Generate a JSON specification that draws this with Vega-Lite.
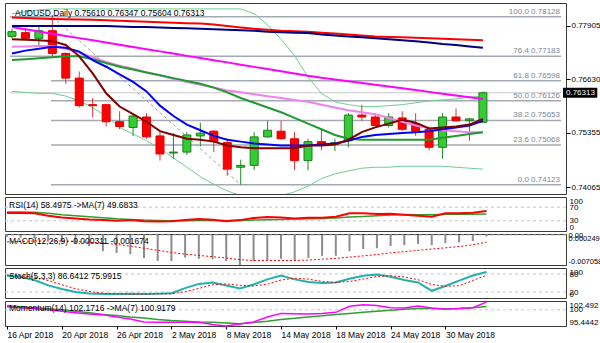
{
 "$schema": "https://vega.github.io/schema/vega-lite/v6.json",
 "padding": {"left": 2, "top": 2, "right": 0, "bottom": 0},
 "background": "white",
 "spacing": 3,
 "bounds": "flush",
 "config": {
  "view": {"stroke": "#3a3a3a", "strokeWidth": 1},
  "font": "Liberation Sans",
  "axis": {"labelFont": "Liberation Sans", "labelFontSize": 8, "labelColor": "#000", "domain": false, "grid": false, "labelOverlap": false}
 },
 "datasets": {
  "bars": [
   {"i":0,"o":0.77657,"h":0.77837,"l":0.77611,"c":0.7777,"r200":0.78108,"nv":0.77905,"mg":0.77878,"pk":0.77408,"dg":0.77092,"bl":0.7725,"br":0.77589,"bbu":0.78199,"bbl":0.76346,"rsi":53,"rsima":56,"macd":-0.0004,"sig":-0.0016,"stk":74,"std":76,"mom":100.9,"momma":101.2},
   {"i":1,"o":0.77747,"h":0.7786,"l":0.77589,"c":0.77611,"r200":0.78097,"nv":0.77905,"mg":0.77826,"pk":0.77419,"dg":0.77114,"bl":0.77318,"br":0.77577,"bbu":0.78244,"bbl":0.76324,"rsi":53,"rsima":56,"macd":-0.0006,"sig":-0.0015,"stk":70,"std":74,"mom":100.6,"momma":100.9},
   {"i":2,"o":0.77611,"h":0.77928,"l":0.77408,"c":0.77792,"r200":0.78086,"nv":0.77905,"mg":0.77774,"pk":0.77431,"dg":0.77137,"bl":0.77363,"br":0.77566,"bbu":0.78289,"bbl":0.76301,"rsi":52,"rsima":55,"macd":-0.0008,"sig":-0.0014,"stk":60,"std":70,"mom":100.4,"momma":100.6},
   {"i":3,"o":0.77792,"h":0.78128,"l":0.7716,"c":0.7725,"r200":0.78074,"nv":0.77905,"mg":0.7772,"pk":0.77431,"dg":0.7716,"bl":0.77408,"br":0.77544,"bbu":0.78312,"bbl":0.76301,"rsi":45,"rsima":52,"macd":-0.0012,"sig":-0.0014,"stk":42,"std":58,"mom":100.0,"momma":100.3},
   {"i":4,"o":0.7725,"h":0.77272,"l":0.76527,"c":0.76663,"r200":0.78063,"nv":0.77905,"mg":0.77668,"pk":0.77363,"dg":0.77182,"bl":0.77385,"br":0.77453,"bbu":0.78312,"bbl":0.76233,"rsi":40,"rsima":48,"macd":-0.0016,"sig":-0.0014,"stk":30,"std":44,"mom":99.6,"momma":100.0},
   {"i":5,"o":0.76663,"h":0.76821,"l":0.75962,"c":0.76007,"r200":0.78059,"nv":0.77905,"mg":0.77616,"pk":0.77273,"dg":0.77182,"bl":0.77295,"br":0.77182,"bbu":0.78312,"bbl":0.7612,"rsi":37,"rsima":45,"macd":-0.0021,"sig":-0.0015,"stk":20,"std":31,"mom":99.2,"momma":99.6},
   {"i":6,"o":0.7603,"h":0.76188,"l":0.75736,"c":0.76007,"r200":0.78052,"nv":0.77905,"mg":0.77564,"pk":0.7716,"dg":0.77114,"bl":0.77092,"br":0.76776,"bbu":0.78312,"bbl":0.75962,"rsi":34,"rsima":42,"macd":-0.0026,"sig":-0.0017,"stk":15,"std":22,"mom":98.8,"momma":99.2},
   {"i":7,"o":0.7603,"h":0.76052,"l":0.7551,"c":0.75623,"r200":0.78041,"nv":0.77905,"mg":0.7751,"pk":0.77047,"dg":0.77024,"bl":0.76934,"br":0.76301,"bbu":0.78312,"bbl":0.75759,"rsi":32,"rsima":39,"macd":-0.0038,"sig":-0.0019,"stk":13,"std":16,"mom":98.6,"momma":98.7},
   {"i":8,"o":0.75623,"h":0.75872,"l":0.75443,"c":0.7551,"r200":0.78029,"nv":0.77894,"mg":0.77458,"pk":0.76956,"dg":0.76934,"bl":0.76753,"br":0.75985,"bbu":0.78312,"bbl":0.75488,"rsi":30,"rsima":36,"macd":-0.0042,"sig":-0.0022,"stk":13,"std":14,"mom":98.0,"momma":98.4},
   {"i":9,"o":0.75488,"h":0.75804,"l":0.75285,"c":0.75759,"r200":0.78018,"nv":0.77882,"mg":0.77406,"pk":0.76889,"dg":0.76866,"bl":0.76572,"br":0.75804,"bbu":0.78312,"bbl":0.7533,"rsi":32,"rsima":34,"macd":-0.0045,"sig":-0.0026,"stk":14,"std":13,"mom":97.4,"momma":98.0},
   {"i":10,"o":0.75736,"h":0.75827,"l":0.75217,"c":0.75262,"r200":0.78007,"nv":0.77882,"mg":0.77352,"pk":0.76798,"dg":0.76798,"bl":0.76346,"br":0.75623,"bbu":0.78312,"bbl":0.75172,"rsi":29,"rsima":32,"macd":-0.0054,"sig":-0.0031,"stk":13,"std":13,"mom":96.6,"momma":97.7},
   {"i":11,"o":0.75285,"h":0.75398,"l":0.74697,"c":0.74855,"r200":0.77995,"nv":0.77871,"mg":0.773,"pk":0.7673,"dg":0.7673,"bl":0.76007,"br":0.75398,"bbu":0.78312,"bbl":0.74991,"rsi":28,"rsima":31,"macd":-0.0061,"sig":-0.0036,"stk":14,"std":14,"mom":96.5,"momma":97.3},
   {"i":12,"o":0.74878,"h":0.75352,"l":0.74742,"c":0.749,"r200":0.77984,"nv":0.7786,"mg":0.77248,"pk":0.7664,"dg":0.76663,"bl":0.75759,"br":0.75307,"bbu":0.78312,"bbl":0.7476,"rsi":29,"rsima":30,"macd":-0.0061,"sig":-0.0041,"stk":16,"std":14,"mom":96.5,"momma":97.0},
   {"i":13,"o":0.749,"h":0.75375,"l":0.74833,"c":0.75307,"r200":0.77973,"nv":0.77849,"mg":0.77193,"pk":0.76572,"dg":0.76595,"bl":0.75556,"br":0.75217,"bbu":0.78312,"bbl":0.74539,"rsi":32,"rsima":30,"macd":-0.0053,"sig":-0.0045,"stk":33,"std":21,"mom":96.5,"momma":96.8},
   {"i":14,"o":0.75285,"h":0.75601,"l":0.75036,"c":0.75352,"r200":0.77962,"nv":0.77837,"mg":0.77141,"pk":0.76504,"dg":0.76527,"bl":0.7542,"br":0.75194,"bbu":0.78312,"bbl":0.74313,"rsi":35,"rsima":31,"macd":-0.0056,"sig":-0.0048,"stk":47,"std":32,"mom":96.5,"momma":96.6},
   {"i":15,"o":0.75398,"h":0.7542,"l":0.749,"c":0.75149,"r200":0.77939,"nv":0.77826,"mg":0.77089,"pk":0.76437,"dg":0.76437,"bl":0.75285,"br":0.75149,"bbu":0.78312,"bbl":0.74133,"rsi":33,"rsima":31,"macd":-0.0057,"sig":-0.0051,"stk":52,"std":44,"mom":95.9,"momma":96.5},
   {"i":16,"o":0.75126,"h":0.75217,"l":0.74336,"c":0.74494,"r200":0.77905,"nv":0.77815,"mg":0.77038,"pk":0.76369,"dg":0.76324,"bl":0.75194,"br":0.75059,"bbu":0.78312,"bbl":0.73974,"rsi":29,"rsima":31,"macd":-0.0061,"sig":-0.0054,"stk":42,"std":47,"mom":95.4442,"momma":96.3},
   {"i":17,"o":0.74539,"h":0.7472,"l":0.74123,"c":0.74584,"r200":0.77871,"nv":0.77803,"mg":0.76983,"pk":0.76324,"dg":0.76188,"bl":0.75149,"br":0.75014,"bbu":0.78312,"bbl":0.73861,"rsi":32,"rsima":31,"macd":-0.007058,"sig":-0.0058,"stk":32,"std":42,"mom":96.0,"momma":96.1},
   {"i":18,"o":0.74584,"h":0.75375,"l":0.74471,"c":0.75262,"r200":0.77837,"nv":0.77792,"mg":0.76931,"pk":0.76279,"dg":0.76075,"bl":0.75104,"br":0.74991,"bbu":0.78199,"bbl":0.73794,"rsi":38,"rsima":32,"macd":-0.0061,"sig":-0.006,"stk":45,"std":40,"mom":96.6,"momma":96.4},
   {"i":19,"o":0.75262,"h":0.75646,"l":0.75239,"c":0.7542,"r200":0.77815,"nv":0.7777,"mg":0.76879,"pk":0.76233,"dg":0.75962,"bl":0.75081,"br":0.74991,"bbu":0.77928,"bbl":0.73794,"rsi":41,"rsima":33,"macd":-0.0059,"sig":-0.006,"stk":62,"std":46,"mom":98.0,"momma":96.8},
   {"i":20,"o":0.75398,"h":0.75646,"l":0.75194,"c":0.75217,"r200":0.77792,"nv":0.77758,"mg":0.76825,"pk":0.76188,"dg":0.75849,"bl":0.75059,"br":0.74991,"bbu":0.77589,"bbl":0.73861,"rsi":40,"rsima":34,"macd":-0.0056,"sig":-0.006,"stk":75,"std":60,"mom":99.0,"momma":97.3},
   {"i":21,"o":0.75217,"h":0.75375,"l":0.74471,"c":0.74697,"r200":0.77781,"nv":0.77747,"mg":0.76773,"pk":0.76143,"dg":0.75714,"bl":0.75059,"br":0.74991,"bbu":0.772,"bbl":0.73952,"rsi":37,"rsima":35,"macd":-0.0061,"sig":-0.006,"stk":62,"std":66,"mom":98.9,"momma":97.6},
   {"i":22,"o":0.74697,"h":0.75217,"l":0.74471,"c":0.75149,"r200":0.7777,"nv":0.77736,"mg":0.76717,"pk":0.76098,"dg":0.75578,"bl":0.75059,"br":0.75059,"bbu":0.76685,"bbl":0.74087,"rsi":39,"rsima":36,"macd":-0.0054,"sig":-0.0059,"stk":53,"std":63,"mom":98.8,"momma":98.0},
   {"i":23,"o":0.75149,"h":0.75443,"l":0.74946,"c":0.75081,"r200":0.77747,"nv":0.77702,"mg":0.76674,"pk":0.7603,"dg":0.75443,"bl":0.75081,"br":0.75059,"bbu":0.76301,"bbl":0.74268,"rsi":39,"rsima":37,"macd":-0.0049,"sig":-0.0057,"stk":50,"std":55,"mom":99.0,"momma":98.3},
   {"i":24,"o":0.75081,"h":0.75217,"l":0.74923,"c":0.75126,"r200":0.77724,"nv":0.77679,"mg":0.76631,"pk":0.75962,"dg":0.75307,"bl":0.75104,"br":0.75081,"bbu":0.76098,"bbl":0.74381,"rsi":42,"rsima":38,"macd":-0.0049,"sig":-0.0055,"stk":52,"std":52,"mom":99.3,"momma":98.7},
   {"i":25,"o":0.75172,"h":0.75827,"l":0.75014,"c":0.75782,"r200":0.77702,"nv":0.77657,"mg":0.7659,"pk":0.75895,"dg":0.75217,"bl":0.75172,"br":0.75194,"bbu":0.7603,"bbl":0.74449,"rsi":52,"rsima":41,"macd":-0.0038,"sig":-0.0052,"stk":64,"std":55,"mom":101.0,"momma":99.0},
   {"i":26,"o":0.75782,"h":0.7603,"l":0.75646,"c":0.75736,"r200":0.77679,"nv":0.77634,"mg":0.76547,"pk":0.75849,"dg":0.75194,"bl":0.75262,"br":0.75375,"bbu":0.75985,"bbl":0.74516,"rsi":52,"rsima":43,"macd":-0.0033,"sig":-0.0049,"stk":74,"std":63,"mom":101.4,"momma":99.3},
   {"i":27,"o":0.75736,"h":0.75827,"l":0.7551,"c":0.75533,"r200":0.77657,"nv":0.77611,"mg":0.76504,"pk":0.75804,"dg":0.75194,"bl":0.75307,"br":0.75488,"bbu":0.75985,"bbl":0.74539,"rsi":50,"rsima":45,"macd":-0.0031,"sig":-0.0046,"stk":78,"std":72,"mom":101.2,"momma":99.6},
   {"i":28,"o":0.75533,"h":0.75827,"l":0.75488,"c":0.75736,"r200":0.77645,"nv":0.77589,"mg":0.76461,"pk":0.75714,"dg":0.75194,"bl":0.7533,"br":0.75578,"bbu":0.76007,"bbl":0.74539,"rsi":51,"rsima":47,"macd":-0.0026,"sig":-0.0042,"stk":71,"std":74,"mom":100.6,"momma":99.9},
   {"i":29,"o":0.75714,"h":0.75872,"l":0.75398,"c":0.75443,"r200":0.77634,"nv":0.77566,"mg":0.76421,"pk":0.75623,"dg":0.75194,"bl":0.75352,"br":0.75669,"bbu":0.7603,"bbl":0.74562,"rsi":48,"rsima":48,"macd":-0.0024,"sig":-0.0039,"stk":60,"std":70,"mom":100.5,"momma":100.2},
   {"i":30,"o":0.75578,"h":0.75827,"l":0.75285,"c":0.75398,"r200":0.77623,"nv":0.77544,"mg":0.76378,"pk":0.75533,"dg":0.75194,"bl":0.75375,"br":0.75601,"bbu":0.76075,"bbl":0.74562,"rsi":45,"rsima":48,"macd":-0.0021,"sig":-0.0036,"stk":52,"std":61,"mom":101.1,"momma":100.4},
   {"i":31,"o":0.75443,"h":0.7551,"l":0.74946,"c":0.75014,"r200":0.77611,"nv":0.7751,"mg":0.76335,"pk":0.75465,"dg":0.75194,"bl":0.75398,"br":0.75465,"bbu":0.76121,"bbl":0.74562,"rsi":42,"rsima":48,"macd":-0.0024,"sig":-0.0033,"stk":24,"std":45,"mom":100.5,"momma":100.4},
   {"i":32,"o":0.75014,"h":0.75827,"l":0.74742,"c":0.75736,"r200":0.776,"nv":0.77476,"mg":0.76292,"pk":0.7542,"dg":0.75239,"bl":0.75443,"br":0.75488,"bbu":0.76143,"bbl":0.74562,"rsi":52,"rsima":49,"macd":-0.0019,"sig":-0.003,"stk":40,"std":39,"mom":100.2,"momma":100.3},
   {"i":33,"o":0.75736,"h":0.7594,"l":0.75623,"c":0.75646,"r200":0.77589,"nv":0.77453,"mg":0.76251,"pk":0.75398,"dg":0.75285,"bl":0.75488,"br":0.7551,"bbu":0.76166,"bbl":0.74539,"rsi":52,"rsima":49,"macd":-0.0017,"sig":-0.0027,"stk":58,"std":41,"mom":100.4,"momma":100.4},
   {"i":34,"o":0.75646,"h":0.75714,"l":0.75172,"c":0.75691,"r200":0.77577,"nv":0.77419,"mg":0.76208,"pk":0.75375,"dg":0.7533,"bl":0.75533,"br":0.75556,"bbu":0.76211,"bbl":0.74516,"rsi":54,"rsima":49,"macd":-0.0014,"sig":-0.0023,"stk":75,"std":58,"mom":100.6,"momma":100.6},
   {"i":35,"o":0.7561,"h":0.76347,"l":0.75604,"c":0.76313,"r200":0.77566,"nv":0.77385,"mg":0.76166,"pk":0.75375,"dg":0.75375,"bl":0.75646,"br":0.75691,"bbu":0.76233,"bbl":0.74494,"rsi":58.4975,"rsima":49.6833,"macd":-0.000311,"sig":-0.001674,"stk":86.6412,"std":75.9915,"mom":102.1716,"momma":100.9179}
  ],
  "fib": [
   {"pct":100,"price":0.78128,"label":"100.0 0.78128"},
   {"pct":76.4,"price":0.77183,"label":"76.4 0.77183"},
   {"pct":61.8,"price":0.76598,"label":"61.8 0.76598"},
   {"pct":50,"price":0.76126,"label":"50.0 0.76126"},
   {"pct":38.2,"price":0.75653,"label":"38.2 0.75653"},
   {"pct":23.6,"price":0.75068,"label":"23.6 0.75068"},
   {"pct":0,"price":0.74123,"label":"0.0 0.74123"}
  ],
  "trend": [{"i":3,"p":0.78128},{"i":17,"p":0.74123}],
  "last": [{"price":0.76313}]
 },
 "vconcat": [
  {
   "width": 561, "height": 191,
   "data": {"name": "bars"},
   "layer": [
    {"data": {"name": "fib"}, "transform": [{"filter": "datum.pct > 70"}],
     "mark": {"type": "rule", "color": "#a3aab2", "strokeWidth": 1.5},
     "encoding": {"x": {"datum": -0.146, "type": "quantitative", "scale": {"domain": [-0.146, 40.803]}, "axis": null}, "x2": {"datum": 40.803},
      "y": {"field": "price", "type": "quantitative", "scale": {"domain": [0.7402, 0.78334]}, "title": null,
       "axis": {"orient": "right", "values": [0.74065, 0.7471, 0.75355, 0.75985, 0.7663, 0.77275, 0.77905], "format": ".5f", "ticks": true, "tickSize": 4, "tickColor": "#000", "labelPadding": 1, "labelOverlap": false}}}},
    {"data": {"name": "fib"}, "transform": [{"filter": "datum.pct < 70"}],
     "mark": {"type": "rule", "color": "#a3aab2", "strokeWidth": 1.5},
     "encoding": {"x": {"datum": 2.9, "type": "quantitative", "scale": {"domain": [-0.146, 40.803]}, "axis": null}, "x2": {"datum": 40.803},
      "y": {"field": "price", "type": "quantitative", "scale": {"domain": [0.7402, 0.78334]}, "title": null}}},
    {"data": {"name": "last"},
     "mark": {"type": "rule", "color": "#c8c8c8", "strokeWidth": 1},
     "encoding": {"x": {"datum": -0.146, "type": "quantitative", "scale": {"domain": [-0.146, 40.803]}, "axis": null}, "x2": {"datum": 40.803},
      "y": {"field": "price", "type": "quantitative", "scale": {"domain": [0.7402, 0.78334]}, "title": null}}},
    {"data": {"name": "trend"},
     "mark": {"type": "line", "color": "#9a9aa8", "strokeWidth": 1, "strokeDash": [3, 3]},
     "encoding": {"x": {"field": "i", "type": "quantitative", "scale": {"domain": [-0.146, 40.803]}, "axis": null},
      "y": {"field": "p", "type": "quantitative", "scale": {"domain": [0.7402, 0.78334]}, "title": null}}},
    {"mark": {"type": "line", "color": "#6fcf8f", "strokeWidth": 1, "clip": true},
     "encoding": {"x": {"field": "i", "type": "quantitative", "scale": {"domain": [-0.146, 40.803]}, "axis": null},
      "y": {"field": "bbu", "type": "quantitative", "scale": {"domain": [0.7402, 0.78334]}, "title": null}}},
    {"mark": {"type": "line", "color": "#6fcf8f", "strokeWidth": 1, "clip": true},
     "encoding": {"x": {"field": "i", "type": "quantitative", "scale": {"domain": [-0.146, 40.803]}, "axis": null},
      "y": {"field": "bbl", "type": "quantitative", "scale": {"domain": [0.7402, 0.78334]}, "title": null}}},
    {"mark": {"type": "rule", "strokeWidth": 1},
     "encoding": {"x": {"field": "i", "type": "quantitative", "scale": {"domain": [-0.146, 40.803]}, "axis": null},
      "y": {"field": "l", "type": "quantitative", "scale": {"domain": [0.7402, 0.78334]}, "title": null}, "y2": {"field": "h"},
      "color": {"condition": {"test": "datum.c >= datum.o", "value": "#228b22"}, "value": "#e83030"}}},
    {"mark": {"type": "bar", "size": 8, "strokeWidth": 1},
     "encoding": {"x": {"field": "i", "type": "quantitative", "scale": {"domain": [-0.146, 40.803]}, "axis": null},
      "y": {"field": "o", "type": "quantitative", "scale": {"domain": [0.7402, 0.78334]}, "title": null}, "y2": {"field": "c"},
      "fill": {"condition": {"test": "datum.c >= datum.o", "value": "#32cd32"}, "value": "#ff0000"},
      "stroke": {"condition": {"test": "datum.c >= datum.o", "value": "#1f7a1f"}, "value": "#e00000"}}},
    {"mark": {"type": "line", "color": "#ee82ee", "strokeWidth": 2, "clip": true},
     "encoding": {"x": {"field": "i", "type": "quantitative", "scale": {"domain": [-0.146, 40.803]}, "axis": null},
      "y": {"field": "pk", "type": "quantitative", "scale": {"domain": [0.7402, 0.78334]}, "title": null}}},
    {"mark": {"type": "line", "color": "#ff00ff", "strokeWidth": 2, "clip": true},
     "encoding": {"x": {"field": "i", "type": "quantitative", "scale": {"domain": [-0.146, 40.803]}, "axis": null},
      "y": {"field": "mg", "type": "quantitative", "scale": {"domain": [0.7402, 0.78334]}, "title": null}}},
    {"mark": {"type": "line", "color": "#ff0000", "strokeWidth": 2, "clip": true},
     "encoding": {"x": {"field": "i", "type": "quantitative", "scale": {"domain": [-0.146, 40.803]}, "axis": null},
      "y": {"field": "r200", "type": "quantitative", "scale": {"domain": [0.7402, 0.78334]}, "title": null}}},
    {"mark": {"type": "line", "color": "#000080", "strokeWidth": 2, "clip": true},
     "encoding": {"x": {"field": "i", "type": "quantitative", "scale": {"domain": [-0.146, 40.803]}, "axis": null},
      "y": {"field": "nv", "type": "quantitative", "scale": {"domain": [0.7402, 0.78334]}, "title": null}}},
    {"mark": {"type": "line", "color": "#1f9a2f", "strokeWidth": 2, "clip": true},
     "encoding": {"x": {"field": "i", "type": "quantitative", "scale": {"domain": [-0.146, 40.803]}, "axis": null},
      "y": {"field": "dg", "type": "quantitative", "scale": {"domain": [0.7402, 0.78334]}, "title": null}}},
    {"mark": {"type": "line", "color": "#0000ff", "strokeWidth": 2, "clip": true},
     "encoding": {"x": {"field": "i", "type": "quantitative", "scale": {"domain": [-0.146, 40.803]}, "axis": null},
      "y": {"field": "bl", "type": "quantitative", "scale": {"domain": [0.7402, 0.78334]}, "title": null}}},
    {"mark": {"type": "line", "color": "#800000", "strokeWidth": 2, "clip": true},
     "encoding": {"x": {"field": "i", "type": "quantitative", "scale": {"domain": [-0.146, 40.803]}, "axis": null},
      "y": {"field": "br", "type": "quantitative", "scale": {"domain": [0.7402, 0.78334]}, "title": null}}},
    {"data": {"name": "fib"},
     "mark": {"type": "text", "align": "right", "baseline": "bottom", "dx": -1, "dy": -1, "fontSize": 8, "color": "#7d8894"},
     "encoding": {"x": {"datum": 40.803, "type": "quantitative", "scale": {"domain": [-0.146, 40.803]}, "axis": null},
      "y": {"field": "price", "type": "quantitative", "scale": {"domain": [0.7402, 0.78334]}, "title": null},
      "text": {"field": "label"}}},
    {"data": {"values": [{"t": "AUDUSD,Daily  0.75610 0.76347 0.75604 0.76313"}]},
     "mark": {"type": "text", "align": "left", "baseline": "middle", "dx": 5, "fontSize": 8.5, "color": "#000"},
     "encoding": {"x": {"datum": -0.146, "type": "quantitative", "scale": {"domain": [-0.146, 40.803]}, "axis": null},
      "y": {"datum": 0.78205, "type": "quantitative", "scale": {"domain": [0.7402, 0.78334]}, "title": null}, "text": {"field": "t"}}},
    {"data": {"name": "last"},
     "mark": {"type": "bar", "color": "#000", "height": 10, "clip": false},
     "encoding": {"x": {"datum": 40.95, "type": "quantitative", "scale": {"domain": [-0.146, 40.803]}, "axis": null}, "x2": {"datum": 43.5},
      "y": {"field": "price", "type": "quantitative", "scale": {"domain": [0.7402, 0.78334]}, "title": null}}},
    {"data": {"name": "last"},
     "mark": {"type": "text", "align": "left", "baseline": "middle", "dx": 3, "fontSize": 8, "color": "#fff"},
     "encoding": {"x": {"datum": 40.95, "type": "quantitative", "scale": {"domain": [-0.146, 40.803]}, "axis": null},
      "y": {"field": "price", "type": "quantitative", "scale": {"domain": [0.7402, 0.78334]}, "title": null},
      "text": {"field": "price", "format": ".5f"}}}
   ]
  },
  {
   "width": 561, "height": 34,
   "data": {"name": "bars"},
   "resolve": {"axis": {"y": "independent"}},
   "layer": [
    {"data": {"values": [{"v": 30}, {"v": 70}]},
     "mark": {"type": "rule", "color": "#c4c4c4", "strokeDash": [3, 3]},
     "encoding": {"x": {"datum": -0.146, "type": "quantitative", "scale": {"domain": [-0.146, 40.803]}, "axis": null}, "x2": {"datum": 40.803},
      "y": {"field": "v", "type": "quantitative", "scale": {"domain": [0, 100]}, "title": null,
       "axis": {"orient": "right", "values": [0, 30, 70, 100], "ticks": false, "labelPadding": 3, "labelOverlap": false, "labelFlush": true}}}},
    {"mark": {"type": "line", "color": "#2e9e2e", "strokeWidth": 1.5},
     "encoding": {"x": {"field": "i", "type": "quantitative", "scale": {"domain": [-0.146, 40.803]}, "axis": null},
      "y": {"field": "rsima", "type": "quantitative", "scale": {"domain": [0, 100]}, "axis": null}}},
    {"mark": {"type": "line", "color": "#ff0000", "strokeWidth": 2},
     "encoding": {"x": {"field": "i", "type": "quantitative", "scale": {"domain": [-0.146, 40.803]}, "axis": null},
      "y": {"field": "rsi", "type": "quantitative", "scale": {"domain": [0, 100]}, "axis": null}}},
    {"data": {"values": [{"t": "RSI(14) 58.4975  ->MA(7) 49.6833"}]},
     "mark": {"type": "text", "align": "left", "baseline": "middle", "dx": 4, "fontSize": 8.5, "color": "#000"},
     "encoding": {"x": {"datum": -0.146, "type": "quantitative", "scale": {"domain": [-0.146, 40.803]}, "axis": null},
      "y": {"datum": 77, "type": "quantitative", "scale": {"domain": [0, 100]}, "axis": null}, "text": {"field": "t"}}}
   ]
  },
  {
   "width": 561, "height": 31,
   "data": {"name": "bars"},
   "resolve": {"axis": {"y": "independent"}},
   "layer": [
    {"data": {"values": [{"v": 0}]},
     "mark": {"type": "rule", "color": "#c4c4c4", "strokeDash": [3, 3]},
     "encoding": {"x": {"datum": -0.146, "type": "quantitative", "scale": {"domain": [-0.146, 40.803]}, "axis": null}, "x2": {"datum": 40.803},
      "y": {"field": "v", "type": "quantitative", "scale": {"domain": [-0.007058, 0.000249]}, "title": null,
       "axis": {"orient": "right", "values": [-0.007058, 0, 0.000249], "ticks": false, "labelPadding": 2, "labelFontSize": 7.5, "labelOverlap": false, "labelFlush": true,
        "labelExpr": "datum.value == 0 ? '0.00' : replace(format(datum.value, '.6f'), '\u2212', '-')"}}}},
    {"mark": {"type": "rule", "color": "#8c8c8c", "strokeWidth": 2},
     "encoding": {"x": {"field": "i", "type": "quantitative", "scale": {"domain": [-0.146, 40.803]}, "axis": null},
      "y": {"field": "macd", "type": "quantitative", "scale": {"domain": [-0.007058, 0.000249]}, "axis": null}, "y2": {"datum": 0}}},
    {"mark": {"type": "line", "color": "#ff0000", "strokeWidth": 1, "strokeDash": [2, 2]},
     "encoding": {"x": {"field": "i", "type": "quantitative", "scale": {"domain": [-0.146, 40.803]}, "axis": null},
      "y": {"field": "sig", "type": "quantitative", "scale": {"domain": [-0.007058, 0.000249]}, "axis": null}}},
    {"data": {"values": [{"t": "MACD(12,26,9) -0.000311 -0.001674"}]},
     "mark": {"type": "text", "align": "left", "baseline": "middle", "dx": 4, "fontSize": 8.5, "color": "#000"},
     "encoding": {"x": {"datum": -0.146, "type": "quantitative", "scale": {"domain": [-0.146, 40.803]}, "axis": null},
      "y": {"datum": -0.0014, "type": "quantitative", "scale": {"domain": [-0.007058, 0.000249]}, "axis": null}, "text": {"field": "t"}}}
   ]
  },
  {
   "width": 561, "height": 30,
   "data": {"name": "bars"},
   "resolve": {"axis": {"y": "independent"}},
   "layer": [
    {"data": {"values": [{"v": 20}, {"v": 80}]},
     "mark": {"type": "rule", "color": "#c4c4c4", "strokeDash": [3, 3]},
     "encoding": {"x": {"datum": -0.146, "type": "quantitative", "scale": {"domain": [-0.146, 40.803]}, "axis": null}, "x2": {"datum": 40.803},
      "y": {"field": "v", "type": "quantitative", "scale": {"domain": [0, 100]}, "title": null,
       "axis": {"orient": "right", "values": [0, 20, 80, 100], "ticks": false, "labelPadding": 3, "labelOverlap": false, "labelFlush": true}}}},
    {"mark": {"type": "line", "color": "#20b2aa", "strokeWidth": 2},
     "encoding": {"x": {"field": "i", "type": "quantitative", "scale": {"domain": [-0.146, 40.803]}, "axis": null},
      "y": {"field": "stk", "type": "quantitative", "scale": {"domain": [0, 100]}, "axis": null}}},
    {"mark": {"type": "line", "color": "#ff0000", "strokeWidth": 1, "strokeDash": [2, 2]},
     "encoding": {"x": {"field": "i", "type": "quantitative", "scale": {"domain": [-0.146, 40.803]}, "axis": null},
      "y": {"field": "std", "type": "quantitative", "scale": {"domain": [0, 100]}, "axis": null}}},
    {"data": {"values": [{"t": "Stoch(5,3,3) 86.6412 75.9915"}]},
     "mark": {"type": "text", "align": "left", "baseline": "middle", "dx": 4, "fontSize": 8.5, "color": "#000"},
     "encoding": {"x": {"datum": -0.146, "type": "quantitative", "scale": {"domain": [-0.146, 40.803]}, "axis": null},
      "y": {"datum": 73, "type": "quantitative", "scale": {"domain": [0, 100]}, "axis": null}, "text": {"field": "t"}}}
   ]
  },
  {
   "width": 561, "height": 25,
   "data": {"name": "bars"},
   "resolve": {"axis": {"y": "independent", "x": "independent"}},
   "layer": [
    {"data": {"values": [{"v": 100}]},
     "mark": {"type": "rule", "color": "#c4c4c4", "strokeDash": [3, 3]},
     "encoding": {"x": {"datum": -0.146, "type": "quantitative", "scale": {"domain": [-0.146, 40.803]},
       "axis": {"orient": "bottom", "values": [0, 4, 8, 12, 16, 20, 24, 28, 32], "labelAlign": "left", "ticks": true, "tickSize": 3, "tickColor": "#000", "labelPadding": 1, "title": null, "labelFontSize": 8.5, "labelOverlap": false,
        "labelExpr": "['16 Apr 2018','20 Apr 2018','26 Apr 2018','2 May 2018','8 May 2018','14 May 2018','18 May 2018','24 May 2018','30 May 2018'][round(datum.value / 4)]"}},
      "x2": {"datum": 40.803},
      "y": {"field": "v", "type": "quantitative", "scale": {"domain": [95.4442, 102.492]}, "title": null,
       "axis": {"orient": "right", "values": [95.4442, 100, 102.492], "ticks": false, "labelPadding": 3, "labelOverlap": false, "labelFlush": true, "labelExpr": "format(datum.value, '.6~g')"}}}},
    {"mark": {"type": "line", "color": "#2e9e2e", "strokeWidth": 1.5},
     "encoding": {"x": {"field": "i", "type": "quantitative", "scale": {"domain": [-0.146, 40.803]}, "axis": null},
      "y": {"field": "momma", "type": "quantitative", "scale": {"domain": [95.4442, 102.492]}, "axis": null}}},
    {"mark": {"type": "line", "color": "#ff00ff", "strokeWidth": 1.5},
     "encoding": {"x": {"field": "i", "type": "quantitative", "scale": {"domain": [-0.146, 40.803]}, "axis": null},
      "y": {"field": "mom", "type": "quantitative", "scale": {"domain": [95.4442, 102.492]}, "axis": null}}},
    {"data": {"values": [{"t": "Momentum(14) 102.1716  ->MA(7) 100.9179"}]},
     "mark": {"type": "text", "align": "left", "baseline": "middle", "dx": 4, "fontSize": 8.5, "color": "#000"},
     "encoding": {"x": {"datum": -0.146, "type": "quantitative", "scale": {"domain": [-0.146, 40.803]}, "axis": null},
      "y": {"datum": 100.52, "type": "quantitative", "scale": {"domain": [95.4442, 102.492]}, "axis": null}, "text": {"field": "t"}}}
   ]
  }
 ]
}
